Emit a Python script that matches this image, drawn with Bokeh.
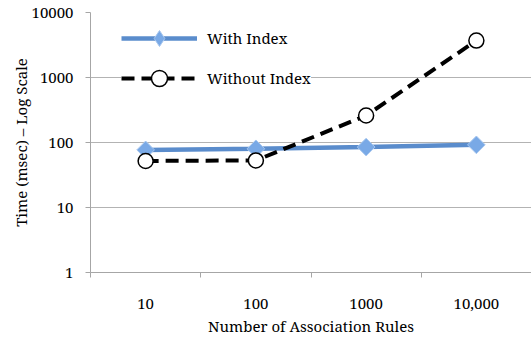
import math
from bokeh.plotting import figure
from bokeh.models import (Range1d, FixedTicker, Legend, LegendItem)
from bokeh.embed import file_html
from bokeh.resources import INLINE

# Number of association rules (category labels) and timings in msec
categories = ["10", "100", "1000", "10,000"]
with_index = [77, 80, 85, 92]
without_index = [52, 53, 260, 3700]
y_ticks = [1, 10, 100, 1000, 10000]

FONT = "Noto Serif"
FONT_SIZE = "15px"
x = [i + 0.5 for i in range(len(categories))]

p = figure(width=531, height=338, output_backend="svg", toolbar_location=None,
           y_axis_type="log", x_range=Range1d(0, len(categories)),
           y_range=Range1d(1, 10000),
           min_border_left=90, min_border_right=0, min_border_top=12,
           min_border_bottom=66)
p.outline_line_color = None
p.background_fill_color = "white"
p.border_fill_color = "white"

# x axis: labels centred in each category, ticks on category boundaries
p.xaxis.ticker = FixedTicker(ticks=x, minor_ticks=list(range(len(categories) + 1)))
p.xaxis.major_label_overrides = {xv: lab for xv, lab in zip(x, categories)}
p.xaxis.major_tick_out = 0
p.xaxis.major_tick_in = 0
p.xaxis.minor_tick_out = 5
p.xaxis.minor_tick_in = 0
p.xaxis.minor_tick_line_color = "#a6a6a6"
p.xaxis.axis_line_color = "#a6a6a6"
p.xaxis.major_label_standoff = 21
p.xaxis.axis_label = "Number of Association Rules"
p.xaxis.axis_label_standoff = 4
p.xgrid.visible = False

# y axis: log scale with a gridline at each decade
p.yaxis.ticker = FixedTicker(ticks=y_ticks, minor_ticks=[])
p.yaxis.major_label_overrides = {t: str(t) for t in y_ticks}
p.yaxis.major_tick_out = 5
p.yaxis.major_tick_in = 0
p.yaxis.major_tick_line_color = "#a6a6a6"
p.yaxis.axis_line_color = "#a6a6a6"
p.yaxis.major_label_standoff = 12
p.yaxis.axis_label = "Time (msec) \u2013 Log Scale"
p.yaxis.axis_label_standoff = -2
p.ygrid.ticker = FixedTicker(ticks=y_ticks, minor_ticks=[])
p.ygrid.grid_line_color = "#b3b3b3"
p.ygrid.grid_line_width = 1

for ax in (p.xaxis, p.yaxis):
    ax.major_label_text_font = FONT
    ax.major_label_text_font_size = FONT_SIZE
    ax.major_label_text_color = "black"
    ax.axis_label_text_font = FONT
    ax.axis_label_text_font_size = FONT_SIZE
    ax.axis_label_text_font_style = "normal"
    ax.axis_label_text_color = "black"

BLUE_LINE = "#5a8ccc"
BLUE_FILL = "#79a9e6"
BLUE_EDGE = "#a9c8ef"

# With Index series: line with diamond markers
r1l = p.line(x, with_index, line_color=BLUE_LINE, line_width=4.5)
p.scatter(x, with_index, marker="square", angle=math.pi / 4, size=12.5,
          fill_color=BLUE_FILL, line_color=BLUE_EDGE, line_width=1)
# diamond key for the legend (legend keys are drawn unrotated)
r1k = p.scatter(x, with_index, marker="diamond", size=18, visible=False,
                fill_color=BLUE_FILL, line_color=BLUE_EDGE, line_width=1)

# Without Index series: dashed line with open circles
r2l = p.line(x, without_index, line_color="black", line_width=4,
             line_dash="13 7")
r2m = p.scatter(x, without_index, marker="circle", size=15,
                fill_color="white", line_color="black", line_width=1.5)

legend = Legend(items=[LegendItem(label="With Index", renderers=[r1l, r1k]),
                       LegendItem(label="Without Index", renderers=[r2l, r2m])],
                location=(31, 174), orientation="vertical")
legend.glyph_width = 76
legend.glyph_height = 40
legend.label_height = 40
legend.spacing = 0
legend.padding = 5
legend.margin = 0
legend.label_standoff = 10
legend.border_line_color = None
legend.background_fill_color = "white"
legend.background_fill_alpha = 1
legend.label_text_font = FONT
legend.label_text_font_size = FONT_SIZE
legend.label_text_color = "black"
p.add_layout(legend, "center")

open("out.html", "w").write(file_html(p, INLINE))
